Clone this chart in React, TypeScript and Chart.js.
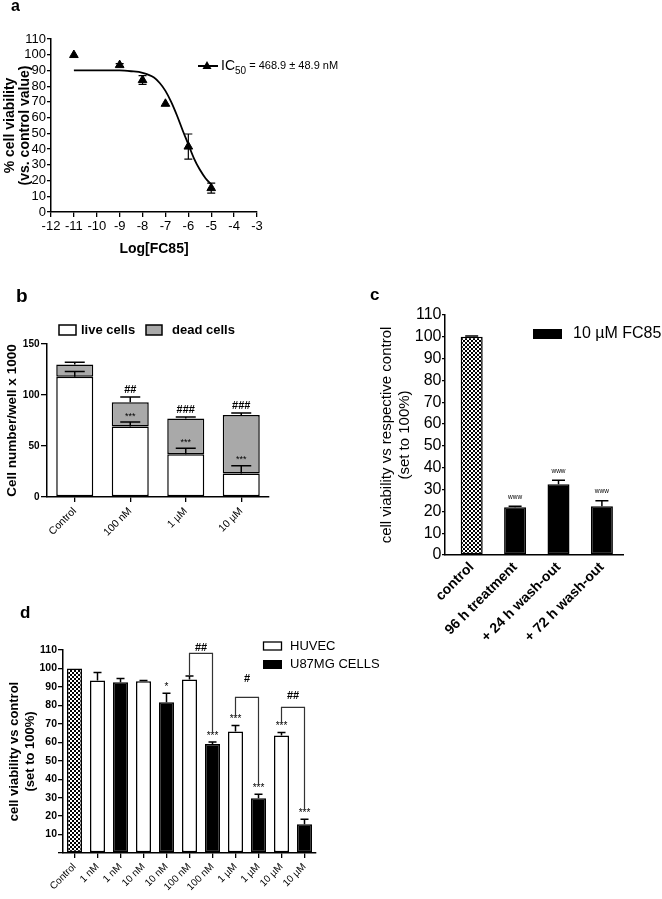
import React, { useEffect, useRef } from 'react';
import { Chart, registerables } from 'chart.js';

Chart.register(...registerables);

const FONT = '"Liberation Sans", Arial, Helvetica, sans-serif';

// ---------- Panel a ----------
const aDoseLog = [-11, -9, -8, -7, -6, -5];
const aViability = [99.8, 93.4, 83.9, 68.8, 41.6, 15.2];
const aViabilityErr = [0, 1, 2.8, 0, 8, 3.2];
const aFitLog = [-11, -10, -9, -8.5, -8, -7.5, -7.25, -7, -6.75, -6.5, -6.25, -6, -5.75, -5.5, -5.25, -5];
const aFitViability = [90, 90, 90, 89.5, 88.5, 85.5, 82, 77, 70, 61.5, 52, 43, 34, 27, 21.5, 17.5];
const aLegendMain = 'IC';
const aLegendSub = '50';
const aLegendRest = ' = 468.9 ± 48.9 nM';

// ---------- Panel b ----------
const bCategories = ['Control', '100 nM', '1 µM', '10 µM'];
const bLive = [118, 69, 42, 23];
const bDead = [12, 24, 35, 57.4];
const bLiveErr = [5, 4.5, 5.7, 7.7];
const bDeadErr = [2, 5, 1.4, 2];
const bLiveMarks = ['', '***', '***', '***'];
const bDeadMarks = ['', '##', '###', '###'];

// ---------- Panel c ----------
const cCategories = ['control', '96 h treatment', '+ 24 h wash-out', '+ 72 h wash-out'];
const cValues = [100, 21.9, 32.4, 22.3];
const cErr = [0.4, 0.4, 1.9, 2.6];
const cMarks = ['', 'www', 'www', 'www'];

// ---------- Panel d ----------
const dCategories = ['Control', '1 nM', '1 nM', '10 nM', '10 nM', '100 nM', '100 nM', '1 µM', '1 µM', '10 µM', '10 µM'];
const dControl = [100, null, null, null, null, null, null, null, null, null, null];
const dHuvec = [null, 93.5, null, 93, null, 94, null, 65.9, null, 63.7, null];
const dU87 = [null, null, 92.5, null, 81.7, null, 59.1, null, 29.6, null, 15.6];
const dHuvecErr = [0, 4.3, 0, 0.5, 0, 1.9, 0, 3.2, 0, 1.6, 0];
const dU87Err = [0, 0, 2.1, 0, 4.8, 0, 1, 0, 2.2, 0, 2.7];
const dHuvecMarks = ['', '', '', '', '', '', '', '***', '', '***', ''];
const dU87Marks = ['', '', '', '', '*', '', '***', '', '***', '', '***'];
const dBracketFrom = [5, 7, 9];
const dBracketTo = [6, 8, 10];
const dBracketTop = [108.2, 84.3, 78.9];
const dBracketLeftEnd = [96.5, 73.4, 69.7];
const dBracketRightEnd = [65.3, 36.4, 22.9];
const dBracketLabels = ['##', '#', '##'];
const dBracketLabelY = [111.1, 94.4, 84.9];

// ---------- plugins ----------
const errorBarPlugin = {
  id: 'errorBars',
  afterDatasetsDraw(chart: any) {
    const ctx = chart.ctx;
    chart.data.datasets.forEach((ds: any, di: number) => {
      const meta = chart.getDatasetMeta(di);
      if (meta.hidden) return;
      const yScale = chart.scales[meta.yAxisID];
      meta.data.forEach((el: any, i: number) => {
        const raw = ds.data[i];
        const v = raw == null ? null : typeof raw === 'object' ? raw.y : raw;
        if (v == null) return;
        const topVal = yScale.getValueForPixel(el.y);
        const up = ds.errUp ? ds.errUp[i] || 0 : 0;
        const down = ds.errDown ? ds.errDown[i] || 0 : 0;
        const hw = (ds.capWidth || 8) / 2;
        ctx.save();
        ctx.strokeStyle = ds.errColor || '#000';
        ctx.lineWidth = ds.errLineWidth || 1.5;
        let markY = el.y;
        if (up > 0) {
          const y1 = yScale.getPixelForValue(topVal + up);
          ctx.beginPath();
          ctx.moveTo(el.x, el.y);
          ctx.lineTo(el.x, y1);
          ctx.moveTo(el.x - hw, y1);
          ctx.lineTo(el.x + hw, y1);
          ctx.stroke();
          markY = y1;
        }
        if (down > 0) {
          const y2 = yScale.getPixelForValue(topVal - down);
          ctx.beginPath();
          ctx.moveTo(el.x, el.y);
          ctx.lineTo(el.x, y2);
          ctx.moveTo(el.x - hw, y2);
          ctx.lineTo(el.x + hw, y2);
          ctx.stroke();
        }
        if (ds.marks && ds.marks[i]) {
          ctx.fillStyle = '#000';
          ctx.font = ds.markFont + ' ' + FONT;
          ctx.textAlign = 'center';
          ctx.textBaseline = 'middle';
          ctx.fillText(ds.marks[i], el.x, markY - ds.markGap);
        }
        ctx.restore();
      });
    });
  },
};

const aLegendPlugin = {
  id: 'aLegend',
  afterDraw(chart: any) {
    const ctx = chart.ctx;
    ctx.save();
    ctx.strokeStyle = '#000';
    ctx.lineWidth = 2;
    ctx.beginPath();
    ctx.moveTo(198, 66);
    ctx.lineTo(218, 66);
    ctx.stroke();
    ctx.fillStyle = '#000';
    ctx.beginPath();
    ctx.moveTo(207, 61);
    ctx.lineTo(211.5, 69);
    ctx.lineTo(202.5, 69);
    ctx.closePath();
    ctx.fill();
    ctx.textBaseline = 'middle';
    let x = 221;
    ctx.font = '14px ' + FONT;
    ctx.fillText(aLegendMain, x, 66);
    x += ctx.measureText(aLegendMain).width;
    ctx.font = '10px ' + FONT;
    ctx.fillText(aLegendSub, x, 71);
    x += ctx.measureText(aLegendSub).width;
    ctx.font = '11px ' + FONT;
    ctx.fillText(aLegendRest, x, 66);
    ctx.restore();
  },
};

const bLegendPlugin = {
  id: 'bLegend',
  afterDraw(chart: any) {
    const ctx = chart.ctx;
    const ds = chart.data.datasets;
    ctx.save();
    ctx.lineWidth = 1.5;
    ctx.strokeStyle = '#000';
    ctx.fillStyle = ds[0].backgroundColor;
    ctx.fillRect(59, 25, 17, 10);
    ctx.strokeRect(59, 25, 17, 10);
    ctx.fillStyle = ds[1].backgroundColor;
    ctx.fillRect(146, 25, 16, 10);
    ctx.strokeRect(146, 25, 16, 10);
    ctx.fillStyle = '#000';
    ctx.font = 'bold 13px ' + FONT;
    ctx.textBaseline = 'middle';
    ctx.fillText(ds[0].label, 81, 30);
    ctx.fillText(ds[1].label, 172, 30);
    ctx.restore();
  },
};

const cLegendPlugin = {
  id: 'cLegend',
  afterDraw(chart: any) {
    const ctx = chart.ctx;
    const ds = chart.data.datasets[0];
    ctx.save();
    ctx.fillStyle = '#000';
    ctx.fillRect(198, 49, 29, 10);
    ctx.font = '16px ' + FONT;
    ctx.textBaseline = 'middle';
    ctx.fillText(ds.label, 238, 54);
    ctx.restore();
  },
};

const dLegendPlugin = {
  id: 'dLegend',
  afterDraw(chart: any) {
    const ctx = chart.ctx;
    const ds = chart.data.datasets;
    ctx.save();
    ctx.lineWidth = 1.3;
    ctx.strokeStyle = '#000';
    ctx.fillStyle = '#fff';
    ctx.fillRect(263.5, 42, 18, 8);
    ctx.strokeRect(263.5, 42, 18, 8);
    ctx.fillStyle = '#000';
    ctx.fillRect(263, 60, 19, 9);
    ctx.font = '13px ' + FONT;
    ctx.textBaseline = 'middle';
    ctx.fillText(ds[1].label, 290, 46);
    ctx.fillText(ds[2].label, 290, 64.5);
    ctx.restore();
  },
};

const dBracketPlugin = {
  id: 'dBrackets',
  afterDatasetsDraw(chart: any) {
    const ctx = chart.ctx;
    const xs = chart.scales.x;
    const ys = chart.scales.y;
    ctx.save();
    ctx.strokeStyle = '#333';
    ctx.lineWidth = 1.2;
    ctx.fillStyle = '#000';
    ctx.font = 'bold 11px ' + FONT;
    ctx.textAlign = 'center';
    ctx.textBaseline = 'middle';
    dBracketFrom.forEach((from, i) => {
      const x0 = xs.getPixelForValue(from);
      const x1 = xs.getPixelForValue(dBracketTo[i]);
      const yt = ys.getPixelForValue(dBracketTop[i]);
      ctx.beginPath();
      ctx.moveTo(x0, ys.getPixelForValue(dBracketLeftEnd[i]));
      ctx.lineTo(x0, yt);
      ctx.lineTo(x1, yt);
      ctx.lineTo(x1, ys.getPixelForValue(dBracketRightEnd[i]));
      ctx.stroke();
      ctx.fillText(dBracketLabels[i], (x0 + x1) / 2, ys.getPixelForValue(dBracketLabelY[i]));
    });
    ctx.restore();
  },
};

function makeChecker() {
  const c = document.createElement('canvas');
  c.width = 4;
  c.height = 4;
  const g = c.getContext('2d')!;
  g.fillStyle = '#fff';
  g.fillRect(0, 0, 4, 4);
  g.fillStyle = '#000';
  g.fillRect(0, 0, 2, 2);
  g.fillRect(2, 2, 2, 2);
  return g.createPattern(c, 'repeat');
}

const axisGrid = (tickLength: number) => ({
  display: true,
  drawOnChartArea: false,
  drawTicks: true,
  tickLength,
  color: '#000',
  lineWidth: 1.3,
});
const axisBorder = { display: true, color: '#000', width: 1.5 };

function configA(): any {
  return {
    type: 'scatter',
    data: {
      datasets: [
        {
          label: 'FC85',
          data: aDoseLog.map((x, i) => ({ x, y: aViability[i] })),
          pointStyle: 'triangle',
          pointRadius: 5,
          backgroundColor: '#000',
          borderColor: '#000',
          borderWidth: 1,
          errUp: aViabilityErr,
          errDown: aViabilityErr,
          capWidth: 8,
          errLineWidth: 1.2,
        },
        {
          type: 'line',
          label: 'fit',
          data: aFitLog.map((x, i) => ({ x, y: aFitViability[i] })),
          borderColor: '#000',
          borderWidth: 1.8,
          pointRadius: 0,
          showLine: true,
          fill: false,
          cubicInterpolationMode: 'monotone',
        },
      ],
    },
    options: {
      responsive: false,
      animation: false,
      events: [],
      layout: { padding: { left: 0, top: 39, right: 103, bottom: 0 } },
      plugins: { legend: { display: false }, tooltip: { enabled: false } },
      scales: {
        x: {
          type: 'linear',
          min: -12,
          max: -3,
          afterFit: (s: any) => { s.height = 48; },
          ticks: { stepSize: 1, autoSkip: false, maxRotation: 0, minRotation: 0, font: { size: 13 }, padding: 2, color: '#000' },
          grid: axisGrid(5),
          border: axisBorder,
          title: { display: true, text: 'Log[FC85]', font: { size: 14, weight: 'bold' }, padding: { top: 0, bottom: 2.6 }, color: '#000' },
        },
        y: {
          min: 0,
          max: 110,
          afterFit: (s: any) => { s.width = 51; },
          ticks: { stepSize: 10, autoSkip: false, font: { size: 13 }, padding: 1, color: '#000' },
          grid: axisGrid(4),
          border: axisBorder,
          title: {
            display: true,
            text: ['% cell viability', '(vs. control value)'],
            font: { size: 14, weight: 'bold', lineHeight: 1.07 },
            padding: { top: 2.5, bottom: 0 },
            color: '#000',
          },
        },
      },
    },
    plugins: [errorBarPlugin, aLegendPlugin],
  };
}

function configB(): any {
  return {
    type: 'bar',
    data: {
      labels: bCategories,
      datasets: [
        {
          label: 'live cells',
          data: bLive,
          backgroundColor: '#ffffff',
          borderColor: '#000',
          borderWidth: 1.5,
          borderSkipped: false,
          errUp: bLiveErr,
          capWidth: 20,
          marks: bLiveMarks,
          markFont: '9px',
          markGap: 6,
        },
        {
          label: 'dead cells',
          data: bDead,
          backgroundColor: '#a9a9a9',
          borderColor: '#000',
          borderWidth: 1.5,
          borderSkipped: false,
          errUp: bDeadErr,
          capWidth: 20,
          marks: bDeadMarks,
          markFont: 'bold 11px',
          markGap: 7,
        },
      ],
    },
    options: {
      responsive: false,
      animation: false,
      events: [],
      layout: { padding: { left: 0, top: 44, right: 21, bottom: 0 } },
      datasets: { bar: { barPercentage: 0.667, categoryPercentage: 1 } },
      plugins: { legend: { display: false }, tooltip: { enabled: false } },
      scales: {
        x: {
          stacked: true,
          afterFit: (s: any) => { s.height = 53; },
          grid: { ...axisGrid(5), offset: false },
          border: axisBorder,
          ticks: { minRotation: 45, maxRotation: 45, autoSkip: false, font: { size: 10.5 }, padding: 3, color: '#000' },
        },
        y: {
          stacked: true,
          min: 0,
          max: 150,
          afterFit: (s: any) => { s.width = 47; },
          grid: axisGrid(6),
          border: axisBorder,
          ticks: { stepSize: 50, autoSkip: false, font: { size: 10, weight: 'bold' }, padding: 1.5, color: '#000' },
          title: {
            display: true,
            text: 'Cell number/well x 1000',
            font: { size: 13.5, weight: 'bold' },
            padding: { top: 4.4, bottom: 0 },
            color: '#000',
          },
        },
      },
    },
    plugins: [errorBarPlugin, bLegendPlugin],
  };
}

function configC(pattern: any): any {
  return {
    type: 'bar',
    data: {
      datasets: [
        {
          label: '10 µM FC85',
          data: cValues.map((y, x) => ({ x, y })),
          backgroundColor: [pattern, '#000', '#000', '#000'],
          borderColor: '#000',
          borderWidth: 1.5,
          borderSkipped: false,
          errUp: cErr,
          capWidth: 13,
          marks: cMarks,
          markFont: '6.5px',
          markGap: 9,
        },
      ],
    },
    options: {
      responsive: false,
      animation: false,
      events: [],
      layout: { padding: { left: 0, top: 35, right: 39, bottom: 0 } },
      datasets: { bar: { barPercentage: 0.507, categoryPercentage: 1 } },
      plugins: { legend: { display: false }, tooltip: { enabled: false } },
      scales: {
        x: {
          type: 'linear',
          offset: false,
          min: -0.615,
          max: 3.486,
          afterFit: (s: any) => { s.height = 105; },
          grid: { display: false, drawTicks: false },
          border: axisBorder,
          ticks: {
            stepSize: 1,
            includeBounds: false,
            autoSkip: false,
            minRotation: 45,
            maxRotation: 45,
            padding: 4,
            font: { size: 14, weight: 'bold' },
            color: '#000',
            callback: (v: any) => (cCategories[v] !== undefined ? cCategories[v] : ''),
          },
        },
        y: {
          min: 0,
          max: 110,
          afterFit: (s: any) => { s.width = 110; },
          grid: axisGrid(3),
          border: axisBorder,
          ticks: { stepSize: 10, autoSkip: false, font: { size: 16 }, padding: 0.5, color: '#000' },
          title: {
            display: true,
            text: ['cell viability vs respective control', '(set to 100%)'],
            font: { size: 15, lineHeight: 1.2 },
            padding: { top: 43, bottom: 0 },
            color: '#000',
          },
        },
      },
    },
    plugins: [errorBarPlugin, cLegendPlugin],
  };
}

function configD(pattern: any): any {
  return {
    type: 'bar',
    data: {
      labels: dCategories,
      datasets: [
        {
          label: 'Control',
          data: dControl,
          backgroundColor: pattern,
          borderColor: '#000',
          borderWidth: 1.5,
          borderSkipped: false,
        },
        {
          label: 'HUVEC',
          data: dHuvec,
          backgroundColor: '#fff',
          borderColor: '#000',
          borderWidth: 1.5,
          borderSkipped: false,
          errUp: dHuvecErr,
          capWidth: 8,
          marks: dHuvecMarks,
          markFont: '10px',
          markGap: 6,
        },
        {
          label: 'U87MG CELLS',
          data: dU87,
          backgroundColor: '#000',
          borderColor: '#000',
          borderWidth: 1.5,
          borderSkipped: false,
          errUp: dU87Err,
          capWidth: 8,
          marks: dU87Marks,
          markFont: '10px',
          markGap: 6,
        },
      ],
    },
    options: {
      responsive: false,
      animation: false,
      events: [],
      layout: { padding: { left: 0, top: 50, right: 104, bottom: 0 } },
      datasets: { bar: { grouped: false, barPercentage: 0.652, categoryPercentage: 1 } },
      plugins: { legend: { display: false }, tooltip: { enabled: false } },
      scales: {
        x: {
          afterFit: (s: any) => { s.height = 46; },
          grid: { ...axisGrid(5), offset: false },
          border: axisBorder,
          ticks: { minRotation: 45, maxRotation: 45, autoSkip: false, font: { size: 10 }, padding: 3, color: '#000' },
        },
        y: {
          min: 0,
          max: 110,
          afterFit: (s: any) => { s.width = 63; },
          grid: axisGrid(5),
          border: axisBorder,
          ticks: {
            stepSize: 10,
            autoSkip: false,
            font: { size: 10.5, weight: 'bold' },
            padding: 1,
            color: '#000',
            callback: (v: any) => (v === 0 ? '' : String(v)),
          },
          title: {
            display: true,
            text: ['cell viability vs control', '(set to 100%)'],
            font: { size: 13, weight: 'bold', lineHeight: 1.3 },
            padding: { top: 5.5, bottom: 0 },
            color: '#000',
          },
        },
      },
    },
    plugins: [errorBarPlugin, dBracketPlugin, dLegendPlugin],
  };
}

const panelLabel = (left: number, top: number, size: number): React.CSSProperties => ({
  position: 'absolute',
  left,
  top,
  fontFamily: FONT,
  fontWeight: 'bold',
  fontSize: size,
  lineHeight: size + 'px',
  color: '#000',
});

export default function App() {
  const aRef = useRef<HTMLCanvasElement>(null);
  const bRef = useRef<HTMLCanvasElement>(null);
  const cRef = useRef<HTMLCanvasElement>(null);
  const dRef = useRef<HTMLCanvasElement>(null);

  useEffect(() => {
    Chart.defaults.font.family = FONT;
    Chart.defaults.color = '#000';
    const pattern = makeChecker();
    const charts = [
      new Chart(aRef.current!, configA()),
      new Chart(bRef.current!, configB()),
      new Chart(cRef.current!, configC(pattern)),
      new Chart(dRef.current!, configD(pattern)),
    ];
    return () => charts.forEach((c) => c.destroy());
  }, []);

  return (
    <div style={{ position: 'absolute', left: 0, top: 0, width: 662, height: 899, background: '#fff', overflow: 'hidden' }}>
      <canvas ref={aRef} width={360} height={260} style={{ position: 'absolute', left: 0, top: 0 }} />
      <canvas ref={bRef} width={290} height={250} style={{ position: 'absolute', left: 0, top: 300 }} />
      <canvas ref={cRef} width={327} height={380} style={{ position: 'absolute', left: 335, top: 280 }} />
      <canvas ref={dRef} width={420} height={299} style={{ position: 'absolute', left: 0, top: 600 }} />
      <div style={panelLabel(11, -1.8, 16)}>a</div>
      <div style={panelLabel(16, 285.6, 19)}>b</div>
      <div style={panelLabel(370, 285.6, 17)}>c</div>
      <div style={panelLabel(20, 603.6, 17)}>d</div>
    </div>
  );
}
